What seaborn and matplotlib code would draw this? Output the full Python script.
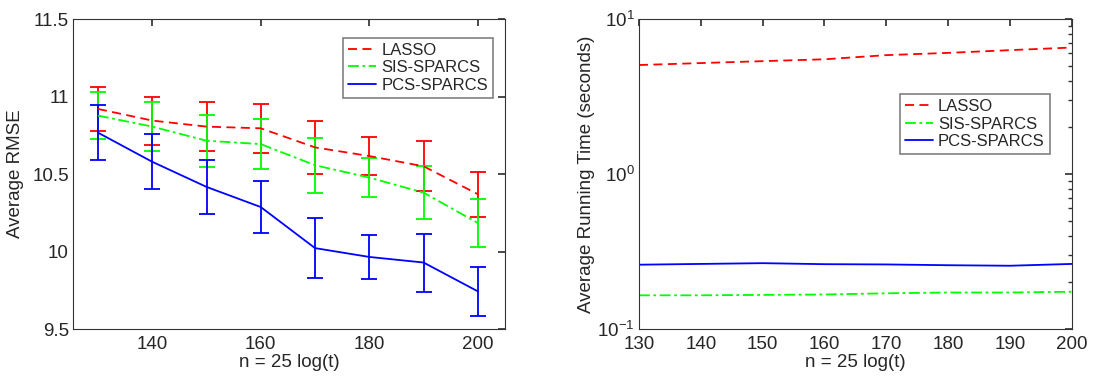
import numpy as np
import pandas as pd
import matplotlib
matplotlib.use("Agg")
import matplotlib.pyplot as plt
import seaborn as sns
from matplotlib.ticker import LogLocator, NullFormatter

sns.set_theme(style="white")
plt.rcParams['font.family'] = ['Liberation Sans', 'DejaVu Sans']

n_vals = [130, 140, 150, 160, 170, 180, 190, 200]
methods = ["LASSO", "SIS-SPARCS", "PCS-SPARCS"]

rmse_lasso = [10.92, 10.845, 10.806, 10.795, 10.672, 10.616, 10.55, 10.37]
rmse_sis = [10.877, 10.806, 10.715, 10.693, 10.557, 10.477, 10.38, 10.184]
rmse_pcs = [10.767, 10.579, 10.417, 10.287, 10.022, 9.965, 9.929, 9.743]
err_lasso = [0.14, 0.155, 0.16, 0.16, 0.17, 0.125, 0.16, 0.146]
err_sis = [0.15, 0.157, 0.167, 0.163, 0.178, 0.125, 0.17, 0.152]
err_pcs = [0.176, 0.177, 0.172, 0.168, 0.192, 0.144, 0.187, 0.16]

time_lasso = [5.05, 5.2, 5.35, 5.5, 5.85, 6.05, 6.3, 6.55]
time_sis = [0.165, 0.165, 0.166, 0.167, 0.170, 0.172, 0.172, 0.174]
time_pcs = [0.260, 0.263, 0.266, 0.262, 0.261, 0.258, 0.256, 0.263]

colors = {"LASSO": "#ff0000", "SIS-SPARCS": "#00ff00", "PCS-SPARCS": "#0000ff"}
dashes = {"LASSO": (5, 3), "SIS-SPARCS": (6, 2, 1.5, 2), "PCS-SPARCS": ""}

rmse_df = pd.concat([
    pd.DataFrame({"n": n_vals, "value": v, "err": e, "method": m})
    for m, v, e in zip(methods, [rmse_lasso, rmse_sis, rmse_pcs], [err_lasso, err_sis, err_pcs])
])
time_df = pd.concat([
    pd.DataFrame({"n": n_vals, "value": v, "method": m})
    for m, v in zip(methods, [time_lasso, time_sis, time_pcs])
])

fig = plt.figure(figsize=(10.93, 3.78), dpi=100)
ax1 = fig.add_axes([0.0668, 0.1296, 0.3952, 0.82])
ax2 = fig.add_axes([0.5846, 0.1296, 0.396, 0.82])

FS = 13.5

# Left: RMSE with error bars
for m in methods:
    sub = rmse_df[rmse_df.method == m]
    ax1.errorbar(sub["n"], sub["value"], yerr=sub["err"], fmt="none",
                 ecolor=colors[m], elinewidth=1.3, capsize=6, capthick=1.3, zorder=2)
sns.lineplot(data=rmse_df, x="n", y="value", hue="method", style="method",
             palette=colors, dashes=dashes, hue_order=methods, style_order=methods,
             linewidth=1.3, ax=ax1, zorder=3)
ax1.set_xlim(125.4, 205)
ax1.set_ylim(9.5, 11.5)
ax1.set_xticks([140, 160, 180, 200])
ax1.set_yticks([9.5, 10, 10.5, 11, 11.5])
ax1.set_yticklabels(["9.5", "10", "10.5", "11", "11.5"])
ax1.set_xlabel("n = 25 log(t)", fontsize=FS, labelpad=1)
ax1.set_ylabel("Average RMSE", fontsize=FS, labelpad=6)

# Right: running time
sns.lineplot(data=time_df, x="n", y="value", hue="method", style="method",
             palette=colors, dashes=dashes, hue_order=methods, style_order=methods,
             linewidth=1.3, ax=ax2)
ax2.set_yscale("log")
ax2.set_xlim(130, 200)
ax2.set_ylim(0.1, 10)
ax2.set_xticks([130, 140, 150, 160, 170, 180, 190, 200])
ax2.yaxis.set_major_locator(LogLocator(base=10, numticks=10))
ax2.yaxis.set_minor_locator(LogLocator(base=10, subs=np.arange(2, 10), numticks=20))
ax2.yaxis.set_minor_formatter(NullFormatter())
ax2.set_xlabel("n = 25 log(t)", fontsize=FS, labelpad=1)
ax2.set_ylabel("Average Running Time (seconds)", fontsize=FS, labelpad=2)

for ax in (ax1, ax2):
    ax.tick_params(axis="both", which="both", direction="in", top=True, right=True,
                   labelsize=FS, color="#333333")
    ax.tick_params(axis="y", pad=3)
    ax.tick_params(axis="x", pad=5)
    ax.tick_params(which="major", length=5)
    ax.tick_params(which="minor", length=3)
    for s in ax.spines.values():
        s.set_color("#333333")
        s.set_linewidth(0.8)

leg1 = ax1.legend(loc="upper right", bbox_to_anchor=(0.972, 0.94), fontsize=12,
                  fancybox=False, edgecolor="#808080", framealpha=1, handlelength=1.7,
                  borderpad=0.3, labelspacing=0.15, handletextpad=0.3, borderaxespad=0)
leg2 = ax2.legend(loc="upper right", bbox_to_anchor=(0.949, 0.758), fontsize=12,
                  fancybox=False, edgecolor="#808080", framealpha=1, handlelength=1.7,
                  borderpad=0.3, labelspacing=0.15, handletextpad=0.3, borderaxespad=0)
for leg in (leg1, leg2):
    leg.get_frame().set_linewidth(1.2)

fig.savefig("out.png", dpi=100)
